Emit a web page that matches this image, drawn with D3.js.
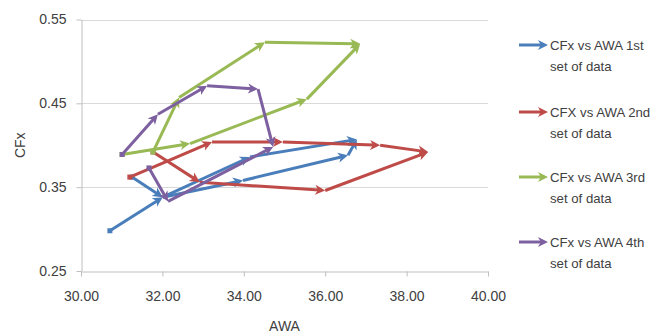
<!DOCTYPE html>
<html><head><meta charset="utf-8">
<script src="https://cdn.jsdelivr.net/npm/d3@7"></script>
<style>
html,body{margin:0;padding:0;background:#fff;}
text{font-family:"Liberation Sans","Open Sans",sans-serif;}
</style></head>
<body>
<svg id="chart" width="656" height="333"></svg>
<script>
// ---- data (null = break between the two sweeps of a data set) ----
const awa1 = [30.71, 32.01, 33.98, 36.56, 36.78, null, 31.25, 32.01, 34.15, 36.78];
const cfx1 = [0.298, 0.338, 0.358, 0.388, 0.407, null, 0.362, 0.338, 0.386, 0.407];
const awa2 = [31.20, 33.22, 34.96, 37.35, 38.53, null, 31.77, 32.92, 36.00, 38.53];
const cfx2 = [0.362, 0.404, 0.404, 0.400, 0.392, null, 0.392, 0.356, 0.346, 0.392];
const awa3 = [31.01, 32.68, 35.55, 36.86, null, 31.77, 32.41, 34.52, 36.86];
const cfx3 = [0.389, 0.402, 0.455, 0.521, null, 0.392, 0.457, 0.523, 0.521];
const awa4 = [31.01, 31.89, 33.10, 34.35, 34.72, null, 31.67, 32.14, 34.72];
const cfx4 = [0.389, 0.437, 0.471, 0.467, 0.398, null, 0.373, 0.333, 0.398];
const seriesNames = ["CFx vs AWA 1st", "CFX vs AWA 2nd", "CFx vs AWA 3rd", "CFx vs AWA 4th"];
const xTicks = [30, 32, 34, 36, 38, 40];
const yTicks = [0.25, 0.35, 0.45, 0.55];
const colors = ["#4A7EBB", "#BE4B48", "#98B954", "#7D60A0"];

const series = [[awa1, cfx1], [awa2, cfx2], [awa3, cfx3], [awa4, cfx4]].map(([xs, ys], i) => ({
  name: seriesNames[i], color: colors[i],
  pts: xs.map((x, j) => x == null ? null : {x: x, y: ys[j]})
}));

const svg = d3.select("#chart");
const x = d3.scaleLinear().domain([30, 40]).range([81, 488]);
const y = d3.scaleLinear().domain([0.25, 0.55]).range([271, 19.5]);

// gridlines
svg.append("g").selectAll("line").data(yTicks.slice(1)).join("line")
  .attr("x1", x(30)).attr("x2", x(40))
  .attr("y1", d => Math.round(y(d)) + 0.5).attr("y2", d => Math.round(y(d)) + 0.5)
  .attr("stroke", "#D9D9D9").attr("stroke-width", 1);

// axes
const yAxis = svg.append("g").attr("transform", "translate(81.5,0)")
  .call(d3.axisLeft(y).tickValues(yTicks).tickFormat(d3.format(".2f")).tickSize(5).tickPadding(10).tickSizeOuter(0));
const xAxis = svg.append("g").attr("transform", "translate(0,271.5)")
  .call(d3.axisBottom(x).tickValues(xTicks).tickFormat(d3.format(".2f")).tickSize(5).tickPadding(15).tickSizeOuter(0));
[yAxis, xAxis].forEach(g => {
  g.select(".domain").attr("stroke", "#BFBFBF");
  g.selectAll(".tick line").attr("stroke", "#BFBFBF");
  g.selectAll("text").attr("font-size", 14).attr("fill", "#404040")
    .style("font-family", "'Liberation Sans',sans-serif");
});

svg.append("text").attr("x", (x(30) + x(40)) / 2).attr("y", 331).attr("text-anchor", "middle")
  .attr("font-size", 14).attr("fill", "#404040").text("AWA");
svg.append("text").attr("transform", `translate(25,${(y(0.25) + y(0.55)) / 2}) rotate(-90)`)
  .attr("text-anchor", "middle").attr("font-size", 14).attr("fill", "#404040").text("CFx");

// arrow drawing helpers
const L = 10, W = 10, SW = 3;
function arrow(g, x0, y0, x1, y1, color) {
  const dx = x1 - x0, dy = y1 - y0, len = Math.hypot(dx, dy) || 1;
  const ux = dx / len, uy = dy / len, nx = -uy, ny = ux;
  g.append("line").attr("x1", x0).attr("y1", y0)
    .attr("x2", x1 - ux * L * 0.6).attr("y2", y1 - uy * L * 0.6)
    .attr("stroke", color).attr("stroke-width", SW);
  const bx = x1 - ux * L, by = y1 - uy * L;
  const mx = x1 - ux * L * 0.72, my = y1 - uy * L * 0.72;
  g.append("path").attr("d",
    `M${x1},${y1}L${bx + nx * W / 2},${by + ny * W / 2}L${mx},${my}L${bx - nx * W / 2},${by - ny * W / 2}Z`)
    .attr("fill", color);
}

// series
series.forEach(s => {
  const g = svg.append("g");
  let prev = null;
  s.pts.forEach(p => {
    if (p == null) { prev = null; return; }
    const px = x(p.x), py = y(p.y);
    if (prev == null) {
      g.append("rect").attr("x", px - 2.5).attr("y", py - 2.5).attr("width", 5).attr("height", 5).attr("fill", s.color);
    } else {
      arrow(g, prev[0], prev[1], px, py, s.color);
    }
    prev = [px, py];
  });
});

// legend
const legY = [45, 112, 177, 242];
series.forEach((s, i) => {
  const g = svg.append("g");
  arrow(g, 519, legY[i], 548, legY[i], s.color);
  const t = g.append("text").attr("x", 550).attr("y", legY[i] + 5).attr("font-size", 13.2).attr("fill", "#404040");
  t.append("tspan").attr("x", 550).text(s.name);
  t.append("tspan").attr("x", 550).attr("dy", 20.5).text("set of data");
});
</script>
</body></html>
